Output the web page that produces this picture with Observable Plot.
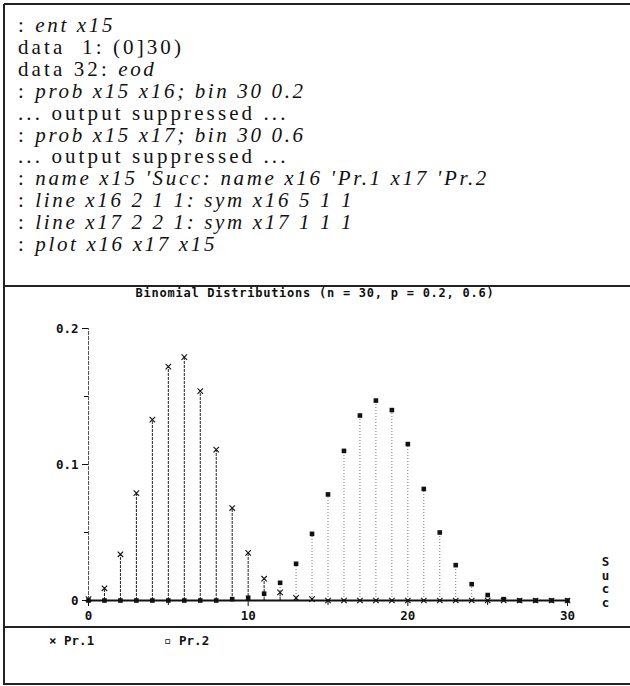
<!DOCTYPE html>
<html>
<head>
<meta charset="utf-8">
<script src="https://cdn.jsdelivr.net/npm/d3@7"></script>
<script src="https://cdn.jsdelivr.net/npm/@observablehq/plot@0.6"></script>
<style>
  html, body { margin: 0; padding: 0; background: #fff; }
  #page { position: relative; width: 630px; height: 686px; overflow: hidden; background: #fff; }
  .hline { position: absolute; left: 4px; right: 0; height: 2px; background: #222; }
  .vline { position: absolute; top: 4px; width: 2px; background: #222; }
  #session { position: absolute; left: 18px; top: 15px; font-family: "Liberation Serif", serif; font-size: 21px; line-height: 21.9px; letter-spacing: 3.1px; white-space: pre; color: #111; }
  #session i { font-style: italic; letter-spacing: 2.65px; }
  #title { position: absolute; left: 0; width: 630px; top: 286px; text-align: center; font-family: "DejaVu Sans Mono", monospace; font-weight: bold; font-size: 12px; letter-spacing: 0.75px; color: #111; white-space: pre; }
  #plot { position: absolute; left: 0; top: 300px; }
  #legend { position: absolute; top: 633px; left: 0; font-family: "DejaVu Sans Mono", monospace; font-weight: bold; font-size: 12.5px; color: #111; white-space: pre; }
  #legend span { position: absolute; top: 0; }
</style>
</head>
<body>
<div id="page">
  <div class="hline" style="top:3px"></div>
  <div class="vline" style="left:3px; height:681px"></div>
  <div id="session"></div>
  <div class="hline" style="top:285px"></div>
  <div id="title"></div>
  <div id="plot"></div>
  <div class="hline" style="top:626px"></div>
  <div id="legend"></div>
  <div class="hline" style="top:683px"></div>
</div>
<script>
// ---- data ----
const successes = [0,1,2,3,4,5,6,7,8,9,10,11,12,13,14,15,16,17,18,19,20,21,22,23,24,25,26,27,28,29,30];
const pr1 = [0.001,0.009,0.034,0.079,0.133,0.172,0.179,0.154,0.111,0.068,0.035,0.016,0.006,0.002,0.001,
             0,0,0,0,0,0,0,0,0,0,0,0,0,0,0,0];
const pr2 = [0,0,0,0,0,0,0,0,0,0.001,0.002,0.005,0.013,0.027,0.049,0.078,0.110,0.136,0.147,0.140,
             0.115,0.082,0.050,0.026,0.012,0.004,0.001,0,0,0,0];
const seriesNames = ["Pr.1", "Pr.2"];
const xAxisName = "Succ";
const yTicks = [0, 0.1, 0.2];
const yTickLabels = ["0", "0.1", "0.2"];
const yMinorTicks = [0.05, 0.15];
const xTicks = [0, 10, 20, 30];
const xMinorTicks = [5, 15, 25];
const chartTitle = "Binomial Distributions (n = 30, p = 0.2, 0.6)";
const sessionLines = [
  [": ", "ent x15"],
  ["data  1: (0]30)", ""],
  ["data 32: ", "eod"],
  [": ", "prob x15 x16; bin 30 0.2"],
  ["... output suppressed ...", ""],
  [": ", "prob x15 x17; bin 30 0.6"],
  ["... output suppressed ...", ""],
  [": ", "name x15 'Succ: name x16 'Pr.1 x17 'Pr.2"],
  [": ", "line x16 2 1 1: sym x16 5 1 1"],
  [": ", "line x17 2 2 1: sym x17 1 1 1"],
  [": ", "plot x16 x17 x15"]
];

// ---- session text ----
const sess = document.getElementById("session");
for (const [a, b] of sessionLines) {
  const div = document.createElement("div");
  div.append(document.createTextNode(a));
  if (b) { const it = document.createElement("i"); it.textContent = b; div.append(it); }
  sess.append(div);
}
document.getElementById("title").textContent = chartTitle;

// ---- table ----
const rows = successes.map((k, i) => ({k, p1: pr1[i], p2: pr2[i]}));

const chart = Plot.plot({
  width: 630,
  height: 330,
  marginLeft: 88,
  marginRight: 63,
  marginTop: 28,
  marginBottom: 30,
  style: {fontFamily: "DejaVu Sans Mono, monospace", fontWeight: "bold", fontSize: "12.5px", color: "#111", background: "transparent", overflow: "visible"},
  x: {domain: [0, 30], label: null},
  y: {domain: [0, 0.2], label: null},
  marks: [
    // y axis line
    Plot.ruleX([0], {y1: 0, y2: 0.2, stroke: "#555", strokeWidth: 1, strokeDasharray: "4,1"}),
    // Pr.2 drop lines (dotted)
    Plot.ruleX(rows, {x: "k", y1: 0, y2: "p2", stroke: "#777", strokeWidth: 1, strokeDasharray: "1,2"}),
    // Pr.1 drop lines (dashed)
    Plot.ruleX(rows, {x: "k", y1: 0, y2: "p1", stroke: "#222", strokeWidth: 1, strokeDasharray: "3,1"}),
    // baseline
    Plot.ruleY([0], {stroke: "#111", strokeWidth: 2}),
    // axes
    Plot.axisY(yTicks, {label: null, tickSize: 6, tickPadding: 4, tickFormat: (d, i) => yTickLabels[i], fontWeight: "bold"}),
    Plot.axisY(yMinorTicks, {label: null, tickSize: 4, tickFormat: () => ""}),
    Plot.axisX(xTicks, {label: null, tickSize: 6, tickPadding: 5, tickFormat: d => String(d), fontWeight: "bold"}),
    Plot.axisX(xMinorTicks, {label: null, tickSize: 5, tickFormat: () => ""}),
    // symbols
    Plot.dot(rows, {x: "k", y: "p2", symbol: "square", r: 2.6, fill: "#111", stroke: "none"}),
    Plot.dot(rows, {x: "k", y: "p1", symbol: "times", r: 2.6, stroke: "#111", strokeWidth: 1.1}),
    // x name, stacked letters
    Plot.text([xAxisName], {frameAnchor: "bottom-right", dx: 38, dy: 6, text: d => d.split("").join("\n"), lineHeight: 1.08, fontSize: 12.5, fontWeight: "bold", textAnchor: "middle", lineAnchor: "bottom"})
  ]
});
document.getElementById("plot").append(chart);

// ---- legend ----
const legend = document.getElementById("legend");
const items = [{sym: "\u00d7", x: 49, name: seriesNames[0]}, {sym: "\u25ab", x: 164, name: seriesNames[1]}];
for (const it of items) {
  const s = document.createElement("span");
  s.style.left = it.x + "px";
  s.textContent = it.sym + " " + it.name;
  legend.append(s);
}
</script>
</body>
</html>
